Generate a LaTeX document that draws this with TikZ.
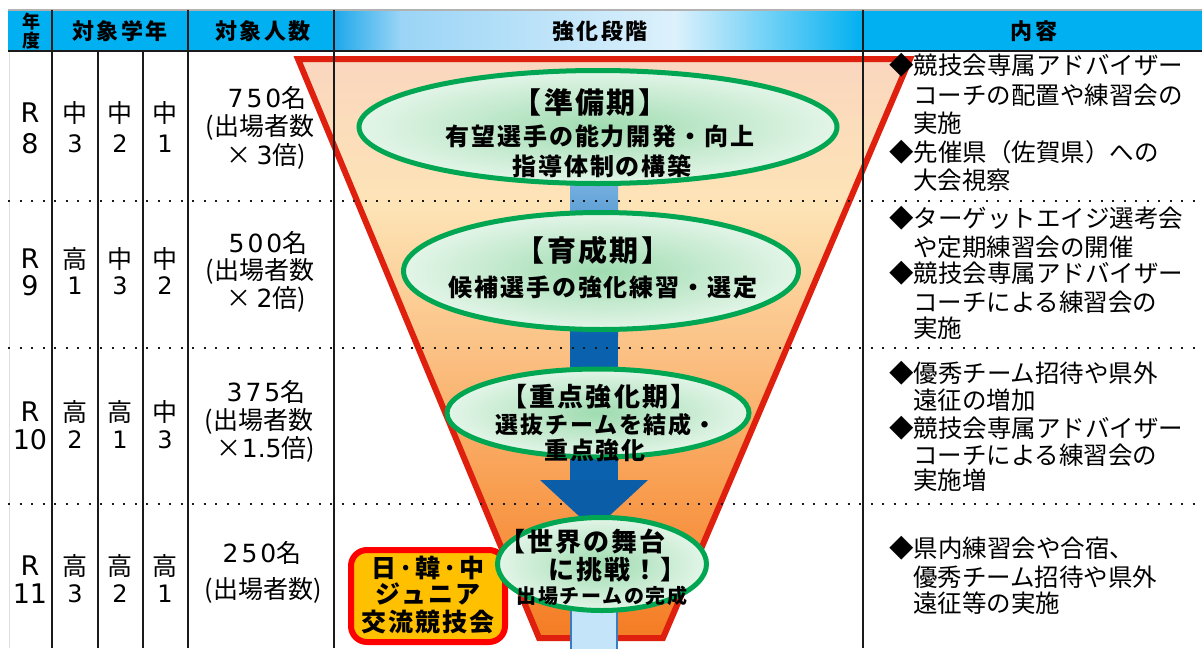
\documentclass[tikz,border=0pt]{standalone}
\usepackage{fontspec}
\usetikzlibrary{shapes.geometric}
\setmainfont{Noto Sans CJK JP}
\newfontfamily\jpls{Noto Sans CJK JP}[LetterSpace=8]
\newfontfamily\hdfam{Noto Sans CJK JP}[LetterSpace=12]
\newfontfamily\dig{DejaVu Sans}
\newfontfamily\digw{DejaVu Sans}[LetterSpace=12]
\definecolor{hcyan}{HTML}{00B0F0}
\definecolor{hg1}{HTML}{1DA8EA}
\definecolor{hg2}{HTML}{9AD4F6}
\definecolor{hg3}{HTML}{DDF1FC}
\definecolor{f0}{HTML}{FAD6BF}
\definecolor{f1}{HTML}{FDE4B6}
\definecolor{f2}{HTML}{FBC184}
\definecolor{f3}{HTML}{F89C4E}
\definecolor{f4}{HTML}{F47B22}
\definecolor{fred}{HTML}{E0200F}
\definecolor{bl1}{HTML}{8CC0EA}
\definecolor{bl2}{HTML}{0A62AE}
\definecolor{bl3}{HTML}{0B5DA8}
\definecolor{lb}{HTML}{C4E4FA}
\definecolor{lbd}{HTML}{3A7CC0}
\definecolor{egreen}{HTML}{00A651}
\definecolor{ein}{HTML}{9FDCB0}
\definecolor{eout}{HTML}{E3F5E8}
\definecolor{ofill}{HTML}{FFC000}
\definecolor{obr}{HTML}{FF0000}
\definecolor{lnc}{HTML}{1A1A1A}
\tikzset{
  colline/.style={lnc, line width=2pt},
  dotline/.style={lnc, line width=2pt, dash pattern=on 2pt off 9.5pt},
  hd/.style={font=\hdfam\bfseries\fontsize{22}{22}\selectfont, inner sep=0, align=center},
  yr/.style={font=\dig\fontsize{27}{30}\selectfont, inner sep=0},
  gd/.style={font=\dig\fontsize{24}{28}\selectfont, inner sep=0},
  gr/.style={font=\fontsize{25}{28}\selectfont, inner sep=0},
  cn/.style={font=\fontsize{25}{28}\selectfont, inner sep=0},
  ct/.style={font=\fontsize{24.5}{28}\selectfont, inner sep=0, anchor=west},
  bt/.style={font=\jpls\bfseries\fontsize{#1}{#1}\selectfont, inner sep=0},
  ell/.style={ellipse, draw=egreen, line width=5pt, inner color=ein, outer color=eout, inner sep=0},
}
\begin{document}
\begin{tikzpicture}[x=1pt,y=-1pt]
\useasboundingbox (0,0) rectangle (1202,648);
\fill[white] (0,0) rectangle (1202,648);

% header backgrounds
\fill[hcyan] (8,10) rectangle (334,51);
\fill[hcyan] (863,10) rectangle (1202,51);
\shade[left color=hg1,right color=hg2] (334,10) rectangle (401,51);
\shade[left color=hg2,right color=hg3] (400,10) rectangle (676,51);
\shade[left color=hg3,right color=hcyan] (675,10) rectangle (863,51);

% funnel
\begin{scope}
\clip (298,59) -- (910,59) -- (663,638) -- (539,638) -- cycle;
\shade[top color=f0,bottom color=f1] (280,56) rectangle (930,206);
\shade[top color=f1,bottom color=f2] (280,205) rectangle (930,351);
\shade[top color=f2,bottom color=f3] (280,350) rectangle (930,496);
\shade[top color=f3,bottom color=f4] (280,495) rectangle (930,645);
\end{scope}
\draw[fred, line width=6pt, line join=miter] (298,59) -- (910,59) -- (663,638) -- (539,638) -- cycle;

% blue bar
\shade[top color=bl1, bottom color=bl2] (570,150) rectangle (618,336);
\fill[bl2] (570,335) rectangle (618,482);

% table lines
\draw[gray!60, line width=1.2pt] (8,10) -- (1202,10);
\draw[gray!25, line width=1pt] (9,51) -- (9,648);
\draw[colline] (8,51) -- (1202,51);
\foreach \x in {52,188,334,863} \draw[colline] (\x,10) -- (\x,648);
\foreach \x in {98,143} \draw[colline] (\x,51) -- (\x,648);
\foreach \y in {201,348,504} \draw[dotline] (8,\y) -- (1202,\y);

% arrow head
\fill[bl3] (540,480) -- (648,480) -- (594,530) -- cycle;

% bottom light bar
\draw[fill=lb, draw=lbd, line width=2.5pt] (571,603) rectangle (617,652);

% orange box
\node[draw=obr, fill=ofill, line width=6pt, rounded corners=16pt, minimum width=154pt, minimum height=92pt, inner sep=0] (ob) at (428,596) {};

% ellipses
\node[ell, minimum width=478pt, minimum height=113pt] (e1) at (598,127) {};
\node[ell, minimum width=395pt, minimum height=117pt] (e2) at (601,271) {};
\node[ell, minimum width=302pt, minimum height=88pt] (e3) at (598,413) {};
\node[ell, minimum width=209pt, minimum height=93pt] (e4) at (602,564) {};

% ellipse texts
\node[bt=29] (t1a) at (590,102) {【準備期】};
\node[bt=24] (t1b) at (600,136) {有望選手の能力開発・向上};
\node[bt=24] (t1c) at (602,166) {指導体制の構築};
\node[bt=29] (t2a) at (593,250) {【育成期】};
\node[bt=24] (t2b) at (603,287) {候補選手の強化練習・選定};
\node[bt=26] (t3a) at (599,397) {【重点強化期】};
\node[bt=23] (t3b) at (606,425) {選抜チームを結成・};
\node[bt=24] (t3c) at (595,450) {重点強化};
\node[bt=26, anchor=west] (t4a) at (499,542) {【世界の舞台};
\node[bt=26, anchor=west] (t4b) at (548,570) {に挑戦！】};
\node[bt=20] (t4c) at (602,596) {出場チームの完成};

% orange box texts
\node[bt=25] (o1) at (428,568) {日·韓·中};
\node[bt=25] (o2) at (428,594) {ジュニア};
\node[bt=25] (o3) at (428,622) {交流競技会};

% header texts
\node[hd, font=\hdfam\bfseries\fontsize{18}{19}\selectfont] (h0) at (31,31) {年\\度};
\node[hd] (h1) at (120,31) {対象学年};
\node[hd] (h2) at (263,31) {対象人数};
\node[hd] (h3) at (600,31) {強化段階};
\node[hd] (h4) at (1034,31) {内容};

% year and grade columns
\foreach \r/\ya/\yb/\Y/\Aa/\Ab/\Ba/\Bb/\Ca/\Cb in
  {1/113/144/8/中/3/中/2/中/1,
   2/259/286/9/高/1/中/3/中/2,
   3/412/440/10/高/2/高/1/中/3,
   4/566/594/11/高/3/高/2/高/1}{
  \node[yr] (ra\r) at (30,\ya) {R};
  \node[yr] (rb\r) at (30,\yb) {\Y};
  \node[gr] (ga\r) at (75,\ya) {\Aa};
  \node[gd] (gb\r) at (75,\yb) {\Ab};
  \node[gr] (ha\r) at (120,\ya) {\Ba};
  \node[gd] (hb\r) at (120,\yb) {\Bb};
  \node[gr] (ka\r) at (165,\ya) {\Ca};
  \node[gd] (kb\r) at (165,\yb) {\Cb};
}

% counts
\node[cn] (c1a) at (267,98) {{\digw 750}名};
\node[cn] (c1b) at (260,127) {(出場者数};
\node[cn] (c1c) at (266,156) {× {\dig 3}倍)};
\node[cn] (c2a) at (268,243) {{\digw 500}名};
\node[cn] (c2b) at (260,271) {(出場者数};
\node[cn] (c2c) at (266,299) {× {\dig 2}倍)};
\node[cn] (c3a) at (266,392) {{\digw 375}名};
\node[cn] (c3b) at (259,421) {(出場者数};
\node[cn] (c3c) at (266,449) {×{\dig 1.5}倍)};
\node[cn] (c4a) at (262,553) {{\digw 250}名};
\node[cn] (c4b) at (263,590) {(出場者数)};

% content column
\foreach \x/\y/\t [count=\i] in {
  889/65/◆競技会専属アドバイザー,
  913/95/コーチの配置や練習会の,
  913/123/実施,
  889/152/◆先催県（佐賀県）への,
  913/180/大会視察,
  889/218/◆ターゲットエイジ選考会,
  913/247/や定期練習会の開催,
  889/273/◆競技会専属アドバイザー,
  913/302/コーチによる練習会の,
  913/328/実施,
  889/373/◆優秀チーム招待や県外,
  913/400/遠征の増加,
  889/428/◆競技会専属アドバイザー,
  913/455/コーチによる練習会の,
  913/480/実施増,
  889/548/◆県内練習会や合宿、,
  913/577/優秀チーム招待や県外,
  913/603/遠征等の実施}{
  \node[ct] (rc\i) at (\x,\y) {\t};
}
\end{tikzpicture}
\end{document}
